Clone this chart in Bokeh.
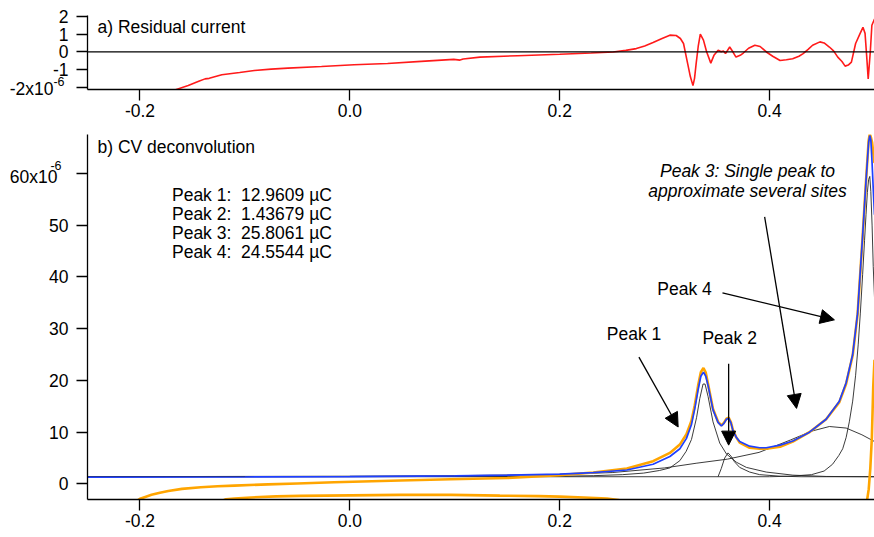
from bokeh.plotting import figure
from bokeh.layouts import column
from bokeh.models import (Range1d, FixedTicker, PrintfTickFormatter, CustomJSTickFormatter,
                          Label, Arrow, NormalHead, Span, LinearAxis)
from bokeh.embed import file_html
from bokeh.resources import INLINE

FONT = "Liberation Sans"
FS = "17.5px"
NB = "\u00a0"

# ---------------- data (current in units of 1e-6 A) ----------------
x_ticks = [-0.2, 0.0, 0.2, 0.4]
top_y_ticks = [-2, -1, 0, 1, 2]
bot_y_ticks = [0, 10, 20, 30, 40, 50, 60]

resid_x = [-0.1665, -0.166, -0.154, -0.144, -0.138, -0.134, -0.122, -0.105, -0.091, -0.075,
           -0.059, -0.027, 0.004, 0.036, 0.068, 0.099, 0.105, 0.108, 0.124, 0.16, 0.2, 0.23,
           0.251, 0.263, 0.273, 0.281, 0.289, 0.297, 0.305, 0.311, 0.315, 0.318, 0.322, 0.3245,
           0.327, 0.3285, 0.330, 0.332, 0.334, 0.337, 0.340, 0.344, 0.347, 0.351, 0.354, 0.356,
           0.358, 0.362, 0.365, 0.368, 0.372, 0.375, 0.38, 0.386, 0.391, 0.397, 0.403, 0.41,
           0.416, 0.422, 0.428, 0.432, 0.437, 0.441, 0.448, 0.452, 0.457, 0.461, 0.465, 0.469,
           0.472, 0.475, 0.478, 0.482, 0.486, 0.489, 0.491, 0.4925, 0.494, 0.496, 0.4975, 0.5]
resid_y = [-2.2, -2.14, -1.91, -1.67, -1.53, -1.5, -1.30, -1.17, -1.06, -0.98,
           -0.92, -0.83, -0.73, -0.66, -0.54, -0.43, -0.47, -0.41, -0.3, -0.22, -0.14, -0.07,
           -0.01, 0.08, 0.18, 0.33, 0.52, 0.74, 0.94, 0.92, 0.75, 0.47, -0.68, -1.4,
           -1.91, -1.5, -0.68, 0.3, 1.0, 0.66, 0.0, -0.64, -0.2, 0.09, 0.0, 0.05,
           -0.1, 0.27, 0.0, -0.3, -0.2, -0.07, 0.2, 0.37, 0.3, -0.01, -0.25, -0.49,
           -0.45, -0.39, -0.25, -0.1, 0.15, 0.37, 0.56, 0.5, 0.27, 0.05, -0.30, -0.55,
           -0.81, -0.75, -0.58, 0.47, 1.0, 1.38, 1.04, -0.2, -1.53, 0.0, 1.5, 1.85]

data_fwd_x = [-0.2025, -0.2, -0.195, -0.189, -0.181, -0.173, -0.16, -0.142, -0.126, -0.11,
              -0.078, -0.05, -0.015, 0.048, 0.096, 0.15, 0.2, 0.232, 0.264, 0.289, 0.305,
              0.3145, 0.3208, 0.3256, 0.3287, 0.3319, 0.3345, 0.337, 0.3392, 0.3414, 0.3461,
              0.3509, 0.3541, 0.3565, 0.3589, 0.361, 0.3632, 0.3651, 0.3683, 0.3715, 0.381,
              0.3905, 0.3968, 0.41, 0.4222, 0.438, 0.4539, 0.4665, 0.4729, 0.4792, 0.4839,
              0.4887, 0.4919, 0.4944, 0.4955, 0.4965, 0.4977, 0.4988, 0.5]
data_fwd_y = [-3.2, -2.85, -2.5, -2.1, -1.7, -1.35, -0.95, -0.64, -0.45, -0.32,
              -0.07, 0.1, 0.32, 0.68, 0.9, 1.15, 1.7, 2.2, 3.0, 4.4, 6.0,
              7.6, 9.6, 12.2, 15.2, 19.0, 21.6, 22.4, 21.5, 19.3, 14.5,
              12.0, 11.3, 11.8, 12.6, 12.8, 11.9, 10.4, 9.0, 8.0, 7.0,
              6.8, 6.8, 7.2, 8.2, 10.0, 12.5, 15.8, 19.3, 24.8, 32.8,
              47.8, 58.5, 66.3, 67.6, 67.0, 66.0, 64.0, 62.0]

data_rev_hi_x = [0.5, 0.4988, 0.4975, 0.496, 0.4945, 0.4928]
data_rev_hi_y = [24.0, 18.8, 9.0, 3.0, -1.0, -3.3]
data_rev_lo_x = [0.258, 0.256, 0.245, 0.223, 0.2, 0.18, 0.143, 0.096, 0.048, 0.001,
                 -0.047, -0.07, -0.094, -0.11, -0.118, -0.12]
data_rev_lo_y = [-3.3, -3.1, -2.8, -2.6, -2.45, -2.35, -2.25, -2.1, -2.1, -2.2,
                 -2.3, -2.4, -2.6, -2.8, -2.96, -3.1]

fit_x = [-0.25, -0.1, 0.0, 0.1, 0.15, 0.2, 0.232, 0.264, 0.289, 0.305, 0.3145, 0.3208,
         0.3256, 0.3287, 0.3319, 0.3345, 0.337, 0.3392, 0.3414, 0.3461, 0.3509, 0.3541,
         0.3565, 0.3589, 0.361, 0.3632, 0.3651, 0.3683, 0.3715, 0.381, 0.3905, 0.3968,
         0.41, 0.4222, 0.438, 0.4539, 0.4665, 0.4729, 0.4792, 0.4839, 0.4887, 0.4919,
         0.4944, 0.4955, 0.4965, 0.4977, 0.4988, 0.5]
fit_y = [1.3, 1.35, 1.4, 1.55, 1.7, 1.9, 2.2, 2.7, 3.8, 5.3, 6.8, 8.8,
         11.5, 14.5, 18.2, 20.8, 21.6, 20.8, 19.0, 14.3, 11.9, 11.2,
         11.7, 12.5, 12.7, 11.8, 10.3, 9.0, 8.2, 7.3, 7.0, 7.0,
         7.5, 8.3, 10.0, 12.5, 16.0, 19.5, 25.0, 33.0, 48.0, 58.5,
         66.0, 67.3, 66.5, 62.0, 57.0, 52.0]

peak1_x = [-0.25, 0.1, 0.2, 0.232, 0.26, 0.28, 0.295, 0.305, 0.3145, 0.3205, 0.3256, 0.3304,
           0.3335, 0.3366, 0.3385, 0.3414, 0.3461, 0.3525, 0.3589, 0.3684, 0.3779, 0.3968,
           0.4222, 0.4539, 0.5]
peak1_y = [1.4, 1.45, 1.5, 1.6, 1.8, 2.1, 2.6, 3.1, 4.5, 6.3, 8.6, 12.8,
           16.5, 19.3, 19.3, 16.9, 12.0, 7.9, 5.8, 4.2, 3.2, 2.3,
           1.7, 1.45, 1.4]

peak2_x = [0.3509, 0.354, 0.3572, 0.3604, 0.3636, 0.3665, 0.3715, 0.381, 0.3905, 0.41, 0.43, 0.5]
peak2_y = [1.4, 3.0, 5.0, 6.0, 5.3, 4.3, 3.2, 2.3, 1.8, 1.5, 1.4, 1.4]

peak3_x = [-0.25, 0.0, 0.1, 0.2, 0.25, 0.3, 0.33, 0.36, 0.39, 0.42, 0.44, 0.457, 0.473, 0.488, 0.5]
peak3_y = [1.4, 1.5, 1.6, 1.85, 2.2, 3.1, 4.0, 4.8, 6.1, 8.5, 10.2, 11.1, 10.8, 9.5, 8.2]

peak4_x = [-0.25, 0.4, 0.42, 0.44, 0.452, 0.46, 0.466, 0.4697, 0.473, 0.476, 0.4792, 0.482,
           0.4845, 0.4865, 0.4887, 0.4905, 0.4919, 0.4932, 0.4944, 0.4955, 0.4965, 0.4977,
           0.4988, 0.5]
peak4_y = [1.4, 1.4, 1.5, 1.8, 2.5, 3.8, 5.5, 6.8, 9.0, 12.0, 16.0, 21.0,
           27.0, 33.0, 40.5, 47.0, 52.0, 56.3, 58.8, 59.4, 56.5, 50.0,
           42.0, 36.0]

peak_names = ["Peak 1:", "Peak 2:", "Peak 3:", "Peak 4:"]
peak_charges = ["12.9609 µC", "1.43679 µC", "25.8061 µC", "24.5544 µC"]

RED = "#ff1a1a"
BLUE = "#1f40ff"
ORANGE = "#ffa500"
BLACK = "#262626"

x_rng = Range1d(-0.25, 0.5)


def style(p, yticks, hide_val):
    p.xgrid.visible = False
    p.ygrid.visible = False
    p.outline_line_color = None
    p.background_fill_color = "white"
    p.border_fill_color = "white"
    xa = p.xaxis[0]
    xa.ticker = FixedTicker(ticks=x_ticks, minor_ticks=[])
    xa.formatter = PrintfTickFormatter(format="%.1f")
    ya = p.yaxis[0]
    ya.ticker = FixedTicker(ticks=yticks, minor_ticks=[])
    ya.formatter = CustomJSTickFormatter(
        code="return (Math.abs(tick - (%s)) < 1e-9) ? '' : tick.toFixed(0);" % hide_val)
    for ax in (xa, ya):
        ax.axis_line_color = "black"
        ax.axis_line_width = 1.3
        ax.major_tick_line_color = "black"
        ax.major_tick_line_width = 1.3
        ax.major_tick_in = 0
        ax.major_tick_out = 11
        ax.minor_tick_in = 0
        ax.minor_tick_out = 0
        ax.major_label_text_font = FONT
        ax.major_label_text_font_size = FS
        ax.major_label_text_color = "black"
    xa.major_label_standoff = 3
    ya.major_label_standoff = 8


def text_axis(p, at, text, size, standoff):
    """An extra left axis that only carries one text label (for the x10^-6 exponent)."""
    ax = LinearAxis(ticker=FixedTicker(ticks=[at], minor_ticks=[]),
                    formatter=CustomJSTickFormatter(code="return '%s';" % text),
                    axis_line_color=None, major_tick_line_color=None,
                    minor_tick_line_color=None, major_tick_in=0, major_tick_out=0,
                    minor_tick_in=0, minor_tick_out=0,
                    major_label_text_font=FONT, major_label_text_font_size=size,
                    major_label_text_color="black", major_label_standoff=standoff)
    p.add_layout(ax, "left")


def lab(p, x, y, text, align="left", style_="normal"):
    p.add_layout(Label(x=x, y=y, text=text, text_font=FONT, text_font_size=FS,
                       text_color="black", text_font_style=style_,
                       text_baseline="middle", text_align=align))


# ---------------- top panel: residual ----------------
p1 = figure(width=874, height=130, x_range=x_rng, y_range=Range1d(-2.13, 2.05),
            output_backend="svg", toolbar_location=None,
            min_border_left=87, min_border_right=0, min_border_top=15, min_border_bottom=41)
style(p1, top_y_ticks, -2)
text_axis(p1, -2.1, "-2x10", FS, -4)
text_axis(p1, -1.70, "-6", "12.5px", -58)
p1.add_layout(Span(location=0, dimension="width", line_color="black", line_width=1.3))
p1.line(resid_x, resid_y, line_color=RED, line_width=1.6)
lab(p1, -0.2405, 1.40, "a) Residual current")

# ---------------- bottom panel: deconvolution ----------------
p2 = figure(width=874, height=407, x_range=x_rng, y_range=Range1d(-3.0, 67.5),
            output_backend="svg", toolbar_location=None,
            min_border_left=87, min_border_right=0, min_border_top=4, min_border_bottom=38)
style(p2, bot_y_ticks, 60)
text_axis(p2, 59.26, "60x10", FS, -11)
text_axis(p2, 61.5, "-6", "12.5px", -55)
p2.xaxis[0].major_label_standoff = 3

for px_, py_ in ((peak1_x, peak1_y), (peak2_x, peak2_y), (peak3_x, peak3_y), (peak4_x, peak4_y)):
    p2.line(px_, py_, line_color=BLACK, line_width=0.9)
p2.line(data_fwd_x, data_fwd_y, line_color=ORANGE, line_width=2.6)
p2.line(data_rev_hi_x, data_rev_hi_y, line_color=ORANGE, line_width=2.6)
p2.line(data_rev_lo_x, data_rev_lo_y, line_color=ORANGE, line_width=2.6)
p2.line(fit_x, fit_y, line_color=BLUE, line_width=1.7)

lab(p2, -0.2405, 65.0, "b) CV deconvolution")
for i, (nm, ch) in enumerate(zip(peak_names, peak_charges)):
    lab(p2, -0.1695, 55.9 - 3.7 * i, nm + NB + NB + ch)

lab(p2, 0.379, 60.4, "Peak 3: Single peak to", "center", "italic")
lab(p2, 0.379, 56.5, "approximate several sites", "center", "italic")
lab(p2, 0.319, 37.7, "Peak 4", "center")
lab(p2, 0.2708, 28.95, "Peak 1", "center")
lab(p2, 0.362, 28.2, "Peak 2", "center")

arrows = [
    (0.3953, 51.6, 0.4257, 14.6),
    (0.3551, 36.9, 0.4618, 31.7),
    (0.2755, 24.5, 0.3129, 11.0),
    (0.3610, 23.2, 0.3610, 7.5),
]
for xs, ys, xe, ye in arrows:
    p2.add_layout(Arrow(x_start=xs, y_start=ys, x_end=xe, y_end=ye, line_color="black",
                        line_width=1.3,
                        end=NormalHead(size=14, fill_color="black", line_color="black",
                                       line_width=1)))

layout = column(p1, p2, spacing=0)
open("out.html", "w").write(file_html(layout, INLINE))
